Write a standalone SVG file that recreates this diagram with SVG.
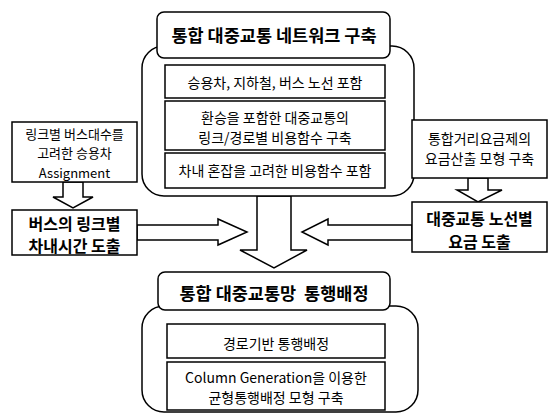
<svg xmlns="http://www.w3.org/2000/svg" width="552" height="415" viewBox="0 0 552 415">
<style>
text{font-family:"Noto Sans CJK KR","Noto Sans",sans-serif;fill:#000;text-anchor:middle;dominant-baseline:central}
.box{fill:#fff;stroke:#000;stroke-width:1.5}
.cont{fill:#fff;stroke:#000;stroke-width:1.5}
.arrow{fill:#fff;stroke:#000;stroke-width:1.5;stroke-linejoin:miter}
.t{font-size:14px}
.s{font-size:13px}
.h{font-size:17.5px;font-weight:bold}
.b{font-size:16px;font-weight:bold}
</style>
<rect width="552" height="415" fill="#fff"/>
<g id="connectors">
<polygon class="arrow" points="257,196 291,196 291,250 307,250 274,268 240,250 257,250"/>
<polygon class="arrow" points="137,225 218,225 218,219 247,232 218,245 218,240 137,240"/>
<polygon class="arrow" points="412,225 328,225 328,219 302,232 328,245 328,240 412,240"/>
<polygon class="arrow" points="63,182 83,182 83,197 93,197 73,208 53,197 63,197"/>
<polygon class="arrow" points="468,178 488,178 488,190 502,190 478,202 457,190 468,190"/>
</g>
<g id="network">
<rect class="cont" x="142" y="46" width="272" height="150" rx="22"/>
<rect class="box" x="157" y="12" width="233" height="46" rx="7"/>
<text class="h" x="274" y="34">통합 대중교통 네트워크 구축</text>
</g>
<g id="net-item1">
<rect class="box" x="165" y="65" width="220" height="33"/>
<text class="t" x="275" y="82">승용차, 지하철, 버스 노선 포함</text>
</g>
<g id="net-item2">
<rect class="box" x="165" y="101" width="220" height="49"/>
<text class="t" x="275" y="117">환승을 포함한 대중교통의</text>
<text class="t" x="275" y="137">링크/경로별 비용함수 구축</text>
</g>
<g id="net-item3">
<rect class="box" x="165" y="153" width="220" height="35"/>
<text class="t" x="275" y="170">차내 혼잡을 고려한 비용함수 포함</text>
</g>
<g id="car-assign">
<rect class="box" x="12" y="122" width="125" height="60"/>
<text class="s" x="74.5" y="133">링크별 버스대수를</text>
<text class="s" x="74.5" y="152.5">고려한 승용차</text>
<text class="s" x="74.5" y="172">Assignment</text>
</g>
<g id="bus-time">
<rect class="box" x="12" y="210" width="125" height="45"/>
<text class="b" x="74.5" y="223">버스의 링크별</text>
<text class="b" x="74.5" y="245">차내시간 도출</text>
</g>
<g id="fare-model">
<rect class="box" x="412" y="120" width="135" height="58"/>
<text class="t" x="479.5" y="138">통합거리요금제의</text>
<text class="t" x="479.5" y="158">요금산출 모형 구축</text>
</g>
<g id="fare-result">
<rect class="box" x="412" y="202" width="135" height="50"/>
<text class="b" x="479.5" y="218">대중교통 노선별</text>
<text class="b" x="479.5" y="241">요금 도출</text>
</g>
<g id="assignment">
<rect class="cont" x="142" y="306" width="276" height="106" rx="22"/>
<rect class="box" x="158" y="272" width="232" height="38" rx="7"/>
<text class="h" x="274" y="292">통합 대중교통망&#160; 통행배정</text>
</g>
<g id="assign-item1">
<rect class="box" x="167" y="324" width="218" height="34"/>
<text class="t" x="276" y="343">경로기반 통행배정</text>
</g>
<g id="assign-item2">
<rect class="box" x="167" y="362" width="218" height="48"/>
<text class="t" x="276" y="377">Column Generation을 이용한</text>
<text class="t" x="276" y="397">균형통행배정 모형 구축</text>
</g>
</svg>
